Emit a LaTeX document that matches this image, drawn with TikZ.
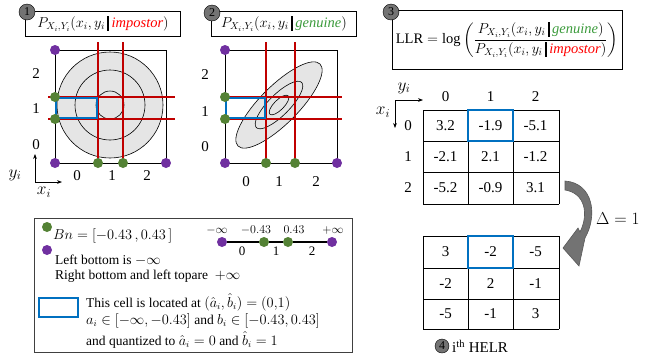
\documentclass[tikz,border=0pt]{standalone}
\usepackage{amsmath}
\usepackage{fontspec}
\setmainfont{Liberation Serif}
\usetikzlibrary{arrows.meta}
\definecolor{dred}{RGB}{192,0,0}
\definecolor{cblue}{RGB}{0,112,192}
\definecolor{gdot}{RGB}{84,130,53}
\definecolor{pdot}{RGB}{112,48,160}
\definecolor{tred}{RGB}{255,0,0}
\definecolor{tgreen}{RGB}{60,155,60}
\newcommand{\tbar}{\,\rule[-0.22em]{0.13em}{1em}\,}
\begin{document}
\begin{tikzpicture}[x=1pt,y=-1pt,
  badge/.style={circle,draw=black,fill=black!55,inner sep=0pt,minimum size=16pt,font=\fontsize{12}{12}\selectfont},
  titlebox/.style={draw=black,line width=0.8pt},
  redline/.style={dred,line width=2.6pt},
  bluecell/.style={cblue,line width=2.4pt},
  gd/.style={circle,fill=gdot,inner sep=0pt,minimum size=10pt},
  pd/.style={circle,fill=pdot,inner sep=0pt,minimum size=10pt},
  lbl/.style={font=\fontsize{15}{15}\selectfont,inner sep=0pt},
  cell/.style={font=\fontsize{15}{15}\selectfont,inner sep=0pt},
  btxt/.style={font=\fontsize{13.5}{14}\selectfont,inner sep=0pt,anchor=west},
  nl/.style={font=\fontsize{13}{13}\selectfont,inner sep=0pt},
  sq/.style={draw=black,line width=0.8pt},
  contour/.style={draw=black,line width=0.6pt}]
\useasboundingbox (0,0) rectangle (665,360);

% ---------- Panel 1 ----------
\draw[titlebox] (25,11) rectangle (180,36);
\node[font=\fontsize{14.5}{14}\selectfont] (t1) at (103,24) {$P_{X_i,Y_i}(x_i,y_i\tbar\textcolor{tred}{\mathit{impostor}})$};
\node[badge] (b1) at (27,12) {1};
\draw[sq] (55,50) rectangle (166,163);
\fill[gray!20] (110,105) circle[radius=53pt];
\draw[contour] (110,105) circle[radius=53pt];
\draw[contour] (110,105) circle[radius=35pt];
\draw[contour] (110,105) circle[radius=14pt];
\draw[redline] (98,42) -- (98,163);
\draw[redline] (123,42) -- (123,163);
\draw[redline] (48,97) -- (175,97);
\draw[redline] (48,119) -- (175,119);
\draw[bluecell] (56,98) rectangle (97,118);
\node[pd] (p1a) at (55,50) {};
\node[pd] (p1b) at (55,163) {};
\node[pd] (p1c) at (166,163) {};
\node[gd] (g1a) at (55,97) {};
\node[gd] (g1b) at (55,119) {};
\node[gd] (g1c) at (98,163) {};
\node[gd] (g1d) at (123,163) {};
\node[lbl] (y12) at (36,74) {2};
\node[lbl] (y11) at (36,109) {1};
\node[lbl] (y10) at (36,145) {0};
\node[lbl] (x10) at (77,176) {0};
\node[lbl] (x11) at (112,176) {1};
\node[lbl] (x12) at (147,176) {2};
\coordinate (o1) at (35,182);
\coordinate (o1y) at (35,154);
\coordinate (o1x) at (62,182);
\draw[-{Stealth[length=5pt]},line width=0.7pt] (o1) -- (o1y);
\draw[-{Stealth[length=5pt]},line width=0.7pt] (o1) -- (o1x);
\node[lbl,font=\fontsize{17}{17}\selectfont] (yl1) at (15,175) {$y_i$};
\node[lbl,font=\fontsize{17}{17}\selectfont] (xl1) at (44,192) {$x_i$};

% ---------- Panel 2 ----------
\draw[titlebox] (211,11) rectangle (356,36);
\node[font=\fontsize{14.5}{14}\selectfont] (t2) at (284,24) {$P_{X_i,Y_i}(x_i,y_i\tbar\textcolor{tgreen}{\mathit{genuine}})$};
\node[badge] (b2) at (212,13) {2};
\draw[sq] (225,50) rectangle (337,163);
\begin{scope}[shift={(279,105)},rotate=45]
\fill[gray!20] (0,0) ellipse[x radius=58pt,y radius=19pt];
\draw[contour] (0,0) ellipse[x radius=58pt,y radius=19pt];
\draw[contour] (0,0) ellipse[x radius=32pt,y radius=10.5pt];
\draw[contour] (0,0) ellipse[x radius=13pt,y radius=5pt];
\end{scope}
\draw[redline] (266,42) -- (266,163);
\draw[redline] (295,42) -- (295,163);
\draw[redline] (222,97) -- (342,97);
\draw[redline] (222,119) -- (342,119);
\draw[bluecell] (226,98) rectangle (265,118);
\node[pd] (p2a) at (225,50) {};
\node[pd] (p2b) at (225,163) {};
\node[pd] (p2c) at (337,163) {};
\node[gd] (g2a) at (225,97) {};
\node[gd] (g2b) at (225,119) {};
\node[gd] (g2c) at (266,163) {};
\node[gd] (g2d) at (295,163) {};
\node[lbl] (y22) at (205,75) {2};
\node[lbl] (y21) at (205,112) {1};
\node[lbl] (y20) at (205,147) {0};
\node[lbl] (x20) at (246,182) {0};
\node[lbl] (x21) at (279,182) {1};
\node[lbl] (x22) at (316,182) {2};

% ---------- Panel 3 ----------
\draw[titlebox] (392,10) rectangle (622,69);
\node[font=\fontsize{14.5}{14}\selectfont] (llr) at (507,40) {$\mathrm{LLR}=\log\left(\dfrac{P_{X_i,Y_i}(x_i,y_i\tbar\textcolor{tgreen}{\mathit{genuine}})}{P_{X_i,Y_i}(x_i,y_i\tbar\textcolor{tred}{\mathit{impostor}})}\right)$};
\node[badge] (b3) at (391,12) {3};

% table 1
\foreach \yy in {110,141,172,204} \draw[line width=0.8pt] (423,\yy) -- (559,\yy);
\foreach \xx in {423,468,513,559} \draw[line width=0.8pt] (\xx,110) -- (\xx,204);
\draw[bluecell] (468,110) rectangle (513,141);
\foreach \v [count=\i from 0] in {3.2,-1.9,-5.1} \node[cell] (a0\i) at (445.5+45*\i,126) {\v};
\foreach \v [count=\i from 0] in {-2.1,2.1,-1.2} \node[cell] (a1\i) at (445.5+45*\i,157) {\v};
\foreach \v [count=\i from 0] in {-5.2,-0.9,3.1} \node[cell] (a2\i) at (445.5+45*\i,188) {\v};
\foreach \i in {0,1,2} \node[lbl] (ch\i) at (445.5+45*\i,97) {\i};
\foreach \i in {0,1,2} \node[lbl] (rh\i) at (408,126+31*\i) {\i};
\coordinate (o3) at (395,100);
\coordinate (o3x) at (423,100);
\coordinate (o3y) at (395,128);
\draw[-{Stealth[length=5pt]},line width=0.7pt] (o3) -- (o3x);
\draw[-{Stealth[length=5pt]},line width=0.7pt] (o3) -- (o3y);
\node[lbl,font=\fontsize{17}{17}\selectfont] (yl3) at (404,88) {$y_i$};
\node[lbl,font=\fontsize{17}{17}\selectfont] (xl3) at (383,112) {$x_i$};

% curved arrow
\draw[draw=black!65,fill=black!55,line width=0.6pt]
  (565,181) .. controls (593,183) and (598,215) .. (585,238)
  -- (579,266) -- (563,248) -- (578,228) -- (580,232)
  .. controls (589,214) and (585,193) .. (565,190) -- cycle;
\node[font=\fontsize{17}{17}\selectfont,anchor=west,inner sep=0pt] (delta) at (596,219) {$\Delta = 1$};

% table 2
\foreach \yy in {236,268,299,329} \draw[line width=0.8pt] (423,\yy) -- (559,\yy);
\foreach \xx in {423,468,513,559} \draw[line width=0.8pt] (\xx,236) -- (\xx,329);
\draw[bluecell] (468,236) rectangle (513,268);
\foreach \v [count=\i from 0] in {3,-2,-5} \node[cell] (c0\i) at (445.5+45*\i,252) {\v};
\foreach \v [count=\i from 0] in {-2,2,-1} \node[cell] (c1\i) at (445.5+45*\i,283.5) {\v};
\foreach \v [count=\i from 0] in {-5,-1,3} \node[cell] (c2\i) at (445.5+45*\i,314) {\v};
\node[badge,minimum size=14pt] (b4) at (442,346) {4};
\node[font=\fontsize{15}{15}\selectfont,anchor=west,inner sep=0pt] (helr) at (452,346) {i\textsuperscript{th} HELR};

% ---------- Legend box ----------
\draw[line width=0.8pt,draw=black!75] (34,218) rectangle (352,352);
\node[gd] (lg) at (47,227) {};
\node[btxt] (bn) at (53,236) {$Bn=[-0.43\,,0.43\,]$};
\node[pd] (lp) at (47,250) {};
\node[btxt] (lb) at (55,260) {Left bottom is $-\infty$};
\node[btxt] (rb) at (55,276) {Right bottom and left topare\ \ $+\infty$};
\node[pd] (n0) at (222,242) {};
\node[gd] (n1) at (264,242) {};
\node[gd] (n2) at (288,242) {};
\node[pd] (n3) at (332,242) {};
\draw[line width=1.4pt] (n0) -- (n1) -- (n2) -- (n3);
\node[nl] (m0) at (217,230) {$-\infty$};
\node[nl] (m1) at (256,230) {$-0.43$};
\node[nl] (m2) at (294,230) {$0.43$};
\node[nl] (m3) at (333,230) {$+\infty$};
\node[nl] (q0) at (242,251) {0};
\node[nl] (q1) at (276,251) {1};
\node[nl] (q2) at (312,251) {2};
\draw[bluecell] (39,298) rectangle (78,317);
\node[btxt] (l1) at (86,302) {This cell is located at $(\hat{a}_i,\hat{b}_i)=(0{,}1)$};
\node[btxt] (l2) at (86,321) {$a_i\in[-\infty,-0.43]$ and $b_i\in[-0.43,0.43]$};
\node[btxt] (l3) at (86,340) {and quantized to $\hat{a}_i=0$ and $\hat{b}_i=1$};
\end{tikzpicture}
\end{document}
